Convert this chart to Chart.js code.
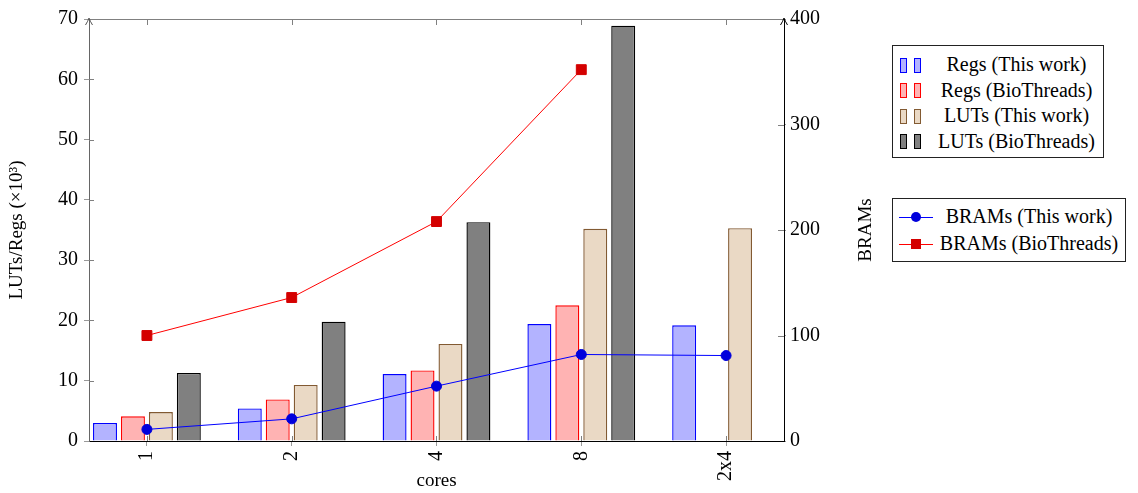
<!DOCTYPE html>
<html>
<head>
<meta charset="utf-8">
<script src="https://cdn.jsdelivr.net/npm/chart.js@4.4.0/dist/chart.umd.min.js"></script>
<style>
  body { margin: 0; background: #fff; }
  #wrap { position: relative; width: 1138px; height: 493px; }
  .legend { position: absolute; border: 1px solid #222; background: #fff; box-sizing: border-box;
            font: 20px "Liberation Serif", serif; color: #000; }
  .row { display: flex; align-items: center; }
  .mk { position: relative; height: 100%; }
  .txt { flex: 1; text-align: center; white-space: nowrap; }
</style>
</head>
<body>
<div id="wrap">
  <canvas id="myChart"></canvas>
  <div class="legend" id="leg1" style="left:892px;top:45px;width:212px;height:113px;padding-top:6px"></div>
  <div class="legend" id="leg2" style="left:892px;top:198px;width:234px;height:64px;padding-top:4px"></div>
</div>
<script>
const categories = ['1', '2', '4', '8', '2x4'];
const regsThis = [3.0, 5.4, 11.1, 19.4, 19.2];
const regsBio = [4.1, 6.9, 11.7, 22.5, null];
const lutsThis = [4.8, 9.3, 16.1, 35.2, 35.3];
const lutsBio = [11.3, 19.8, 36.3, 68.9, null];
const bramsThis = [11, 21, 52, 82, 81];
const bramsBio = [100, 136, 208, 352];

const toPoints = arr => arr.map((v, i) => ({ x: i, y: v }));

Chart.defaults.font.family = '"Liberation Serif", serif';
Chart.defaults.font.size = 20;
Chart.defaults.color = '#000';

// top border, inner ticks, axis arrows, right axis title
const axisDecor = {
  id: 'axisDecor',
  afterDraw(chart) {
    const { ctx, chartArea: a, scales } = chart;
    ctx.save();
    ctx.lineWidth = 1;
    ctx.strokeStyle = '#808080';
    ctx.beginPath();
    ctx.moveTo(a.left, a.top + 0.5);
    ctx.lineTo(a.right, a.top + 0.5);
    categories.forEach((c, i) => {
      const x = Math.round(scales.x.getPixelForValue(i)) + 0.5;
      ctx.moveTo(x, a.top);
      ctx.lineTo(x, a.top + 6);
      ctx.moveTo(x, a.bottom);
      ctx.lineTo(x, a.bottom - 5);
    });
    for (let v = 10; v < 70; v += 10) {
      const y = Math.round(scales.y.getPixelForValue(v)) + 0.5;
      ctx.moveTo(a.left, y);
      ctx.lineTo(a.left + 5, y);
    }
    for (let v = 100; v < 400; v += 100) {
      const y = Math.round(scales.y1.getPixelForValue(v)) + 0.5;
      ctx.moveTo(a.right, y);
      ctx.lineTo(a.right - 6, y);
    }
    ctx.stroke();

    // arrows
    [[a.left, '#555'], [a.right, '#000']].forEach(([x, col]) => {
      ctx.strokeStyle = col;
      ctx.beginPath();
      ctx.moveTo(x - 3.5, a.top + 6);
      ctx.quadraticCurveTo(x - 1, a.top + 2, x, a.top - 1);
      ctx.quadraticCurveTo(x + 1, a.top + 2, x + 3.5, a.top + 6);
      ctx.stroke();
    });

    // right axis title, rotated like the left one
    ctx.fillStyle = '#000';
    ctx.font = '19px "Liberation Serif", serif';
    ctx.translate(866, (a.top + a.bottom) / 2);
    ctx.rotate(-Math.PI / 2);
    ctx.textAlign = 'center';
    ctx.textBaseline = 'middle';
    ctx.fillText('BRAMs', 0, 0);
    ctx.restore();
  }
};

const chart = new Chart(document.getElementById('myChart'), {
  data: {
    datasets: [
      {
        type: 'line', label: 'BRAMs (This work)', data: toPoints(bramsThis), yAxisID: 'y1',
        borderColor: 'rgb(0,0,255)', borderWidth: 1, pointStyle: 'circle', pointRadius: 5,
        pointBackgroundColor: 'rgb(0,0,220)', pointBorderColor: 'rgb(0,0,220)', order: 0
      },
      {
        type: 'line', label: 'BRAMs (BioThreads)', data: toPoints(bramsBio), yAxisID: 'y1',
        borderColor: 'rgb(255,0,0)', borderWidth: 1, pointStyle: 'rect', pointRadius: 7,
        pointBackgroundColor: 'rgb(212,0,0)', pointBorderColor: 'rgb(212,0,0)', order: 0
      },
      {
        type: 'bar', label: 'Regs (This work)', data: toPoints(regsThis), yAxisID: 'y',
        backgroundColor: 'rgb(179,179,255)', borderColor: 'rgb(0,0,255)', borderWidth: 1.4, order: 1
      },
      {
        type: 'bar', label: 'Regs (BioThreads)', data: toPoints(regsBio), yAxisID: 'y',
        backgroundColor: 'rgb(255,179,179)', borderColor: 'rgb(255,0,0)', borderWidth: 1.4, order: 1
      },
      {
        type: 'bar', label: 'LUTs (This work)', data: toPoints(lutsThis), yAxisID: 'y',
        backgroundColor: 'rgb(234,217,197)', borderColor: 'rgb(130,90,50)', borderWidth: 1.4, order: 1
      },
      {
        type: 'bar', label: 'LUTs (BioThreads)', data: toPoints(lutsBio), yAxisID: 'y',
        backgroundColor: 'rgb(128,128,128)', borderColor: 'rgb(0,0,0)', borderWidth: 1.4, order: 1
      }
    ]
  },
  options: {
    responsive: true,
    maintainAspectRatio: false,
    animation: false,
    datasets: { bar: { categoryPercentage: 0.772, barPercentage: 0.857, borderSkipped: 'start' } },
    layout: { padding: { left: 6, right: 258, top: 19, bottom: 0 } },
    plugins: { legend: { display: false }, tooltip: { enabled: false } },
    scales: {
      x: {
        type: 'linear',
        min: -0.4,
        max: 4.4,
        offset: false,
        afterBuildTicks: scale => { scale.ticks = categories.map((c, i) => ({ value: i })); },
        afterFit: scale => { scale.height = 52; },
        ticks: {
          minRotation: 90, maxRotation: 90, padding: 5,
          callback: v => categories[v]
        },
        grid: { drawOnChartArea: false, offset: false, tickLength: 5, color: '#999' },
        border: { color: '#000' },
        title: { display: true, text: 'cores', font: { size: 19 }, padding: { top: 0, bottom: 1 } }
      },
      y: {
        position: 'left',
        min: 0,
        max: 70,
        ticks: { stepSize: 10, padding: 6 },
        afterFit: scale => { scale.width = 83; },
        grid: { drawOnChartArea: false, tickLength: 5, color: '#999' },
        border: { color: '#666' },
        title: { display: true, text: 'LUTs/Regs (×10³)', font: { size: 19 }, padding: { top: 0, bottom: 0 } }
      },
      y1: {
        position: 'right',
        min: 0,
        max: 400,
        ticks: { stepSize: 100, padding: 4 },
        afterFit: scale => { scale.width = 96; },
        grid: { drawOnChartArea: false, tickLength: 2, color: '#999' },
        border: { color: '#000' }
      }
    }
  },
  plugins: [axisDecor]
});

// legends as html boxes, built from the datasets
function barMarker(ds) {
  const sq = left => `<span style="position:absolute;left:${left}px;top:50%;margin-top:-7px;width:5px;height:13px;` +
    `background:${ds.backgroundColor};border:1px solid ${ds.borderColor}"></span>`;
  return `<div class="mk" style="width:30px;margin-left:7px">${sq(0)}${sq(14)}</div>`;
}
function lineMarker(ds) {
  const round = ds.pointStyle === 'circle';
  const s = 10;
  return `<div class="mk" style="width:34px;margin-left:6px">` +
    `<span style="position:absolute;left:0;right:0;top:50%;height:1px;background:${ds.borderColor}"></span>` +
    `<span style="position:absolute;left:50%;top:50%;margin:-${s / 2}px 0 0 -${s / 2}px;width:${s}px;height:${s}px;` +
    `background:${ds.pointBackgroundColor};border-radius:${round ? '50%' : '0'}"></span></div>`;
}
const leg1 = document.getElementById('leg1');
const leg2 = document.getElementById('leg2');
chart.data.datasets.forEach(ds => {
  if (ds.type === 'bar') {
    leg1.innerHTML += `<div class="row" style="height:25.5px">${barMarker(ds)}<div class="txt">${ds.label}</div></div>`;
  } else {
    leg2.innerHTML += `<div class="row" style="height:27px">${lineMarker(ds)}<div class="txt">${ds.label}</div></div>`;
  }
});
</script>
</body>
</html>
